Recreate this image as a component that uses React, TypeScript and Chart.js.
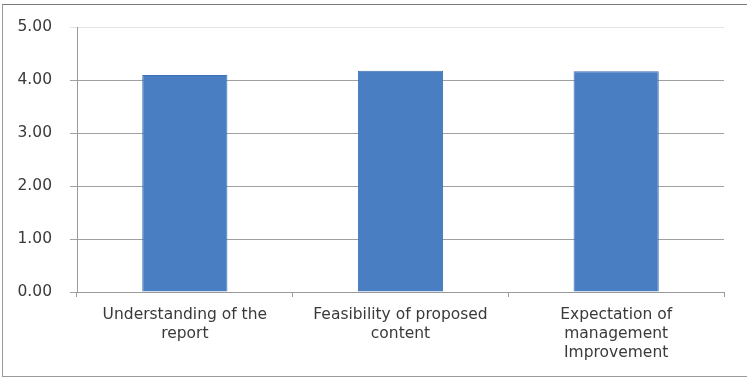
import React, { useEffect, useRef } from "react";
import { Chart, registerables } from "chart.js";

Chart.register(...registerables);

const categories: string[][] = [
  ["Understanding of the", "report"],
  ["Feasibility of proposed", "content"],
  ["Expectation of", "management", "Improvement"],
];
const values: number[] = [4.1, 4.18, 4.17];
const yTicks: number[] = [0, 1, 2, 3, 4, 5];

export default function App() {
  const ref = useRef<HTMLCanvasElement | null>(null);
  useEffect(() => {
    if (!ref.current) return;
    const chart = new Chart(ref.current, {
      type: "bar",
      data: {
        labels: categories,
        datasets: [
          {
            data: values,
            backgroundColor: "#4A7EC2",
            borderColor: "#3F70B0",
            borderWidth: 1,
            barPercentage: 0.395,
            categoryPercentage: 1,
          },
        ],
      },
      options: {
        animation: false,
        responsive: false,
        maintainAspectRatio: false,
        layout: { padding: { top: 25, right: 23, left: 0, bottom: 0 } },
        plugins: { legend: { display: false }, tooltip: { enabled: false } },
        scales: {
          x: {
            offset: true,
            grid: {
              display: true,
              drawOnChartArea: false,
              offset: true,
              tickLength: 5,
              color: "#9a9a9a",
            },
            border: { color: "#9a9a9a" },
            ticks: {
              color: "#3a3a3a",
              font: { family: "DejaVu Sans", size: 15.5, lineHeight: 1.2 },
              padding: 9,
              maxRotation: 0,
              autoSkip: false,
            },
            afterFit: (s: any) => {
              s.height = 86;
            },
          },
          y: {
            min: 0,
            max: 5,
            afterBuildTicks: (s: any) => {
              s.ticks = yTicks.map((v) => ({ value: v }));
            },
            grid: {
              tickLength: 7,
              color: (ctx: any) =>
                ctx.tick && ctx.tick.value === 5 ? "#e4e4e4" : "#a0a0a0",
            },
            border: { color: "#9a9a9a" },
            ticks: {
              color: "#3a3a3a",
              font: { family: "DejaVu Sans", size: 15.5 },
              padding: 18,
              callback: (v: any) => Number(v).toFixed(2),
            },
            afterFit: (s: any) => {
              s.width = 77;
            },
          },
        },
      },
    });
    return () => chart.destroy();
  }, []);
  return (
    <div style={{ position: "fixed", left: 0, top: 0, width: 747, height: 378, background: "#fff" }}>
      <canvas ref={ref} width={747} height={378} style={{ position: "absolute", left: 0, top: 0 }} />
      <div
        style={{
          position: "absolute",
          left: 2,
          top: 4,
          width: 745,
          height: 371,
          borderTop: "1px solid #7a7a7a",
          borderLeft: "1px solid #9a9a9a",
          borderBottom: "1px solid #9a9a9a",
          pointerEvents: "none",
        }}
      />
    </div>
  );
}
